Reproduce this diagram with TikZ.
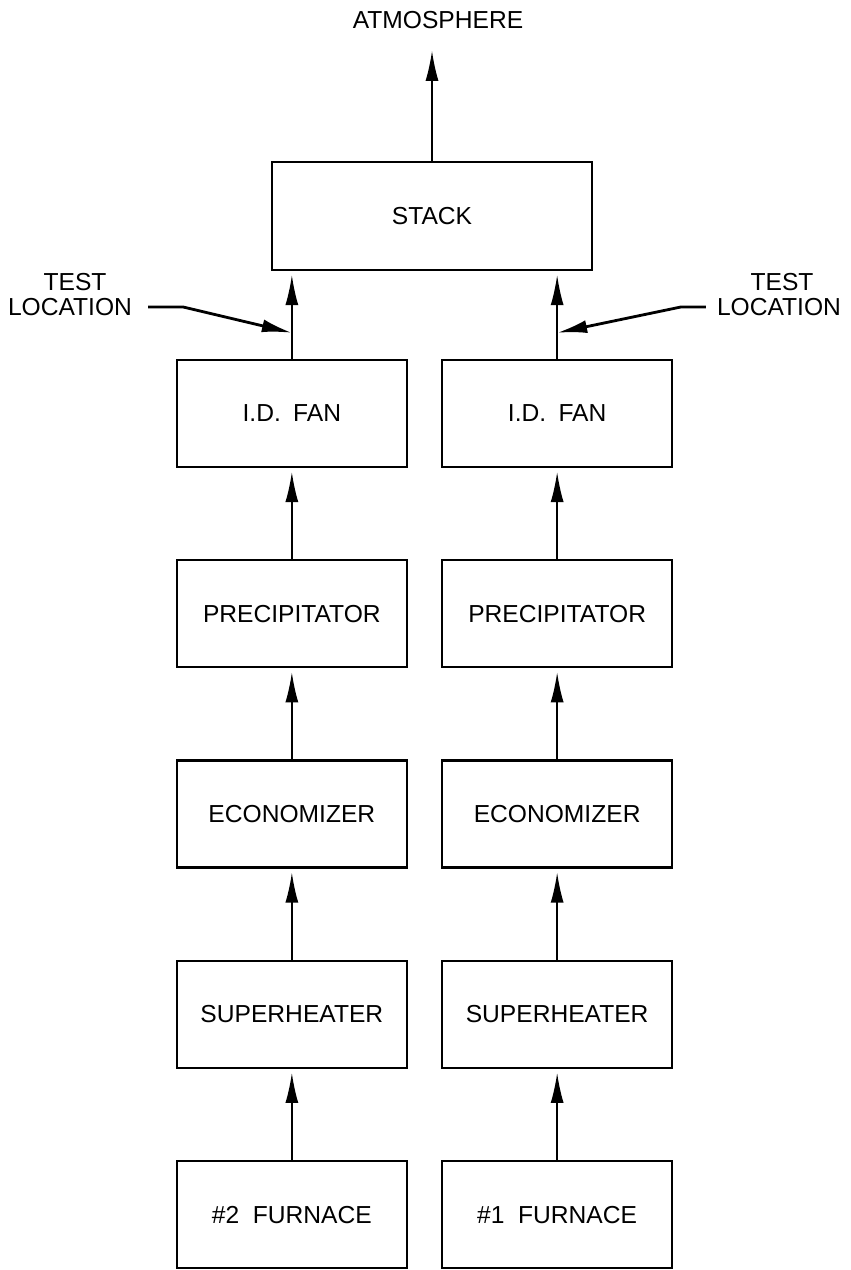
\documentclass[tikz,border=0pt]{standalone}
\usepackage{fontspec}
\setmainfont{Liberation Sans}
\usetikzlibrary{matrix,positioning,calc,arrows.meta}

\begin{document}
\begin{tikzpicture}[font=\fontsize{14}{16}\selectfont,
        unit/.style={draw, line width=1.3pt, minimum width=4.6cm, minimum height=2.14cm, inner sep=0pt},
        flow/.style={-{Latex[length=6mm,width=2.6mm]}, line width=0.9pt},
        probe/.style={-{Latex[length=6mm,width=2.6mm]}, line width=1.6pt}]
        \useasboundingbox (0,0) rectangle (17,-25.4);
        \matrix(plant)[matrix of nodes, nodes={unit}, row sep=1.82cm, column sep=0.66cm] at (8.49,-16.28)
        {
          I.D.\hspace{0.5em}FAN & I.D.\hspace{0.5em}FAN \\
          PRECIPITATOR & PRECIPITATOR \\
          ECONOMIZER & ECONOMIZER \\
          SUPERHEATER & SUPERHEATER \\
          \#2\ \ FURNACE & \#1\ \ FURNACE \\
        };
        \node[unit, minimum width=6.4cm, minimum height=2.16cm] (stack) at (8.64,-4.32) {STACK};
        \node (atm) at (8.76,-0.40) {ATMOSPHERE};
        \coordinate (vent) at ($(stack.north)+(0,2.2)$);
        \draw[flow] (stack.north) -- (vent);
        \foreach \r/\s in {2/1, 3/2, 4/3, 5/4} {
          \foreach \c in {1, 2} {
            \draw[flow, shorten >=0.08cm] (plant-\r-\c) -- (plant-\s-\c);
          };
        };
        \foreach \c in {1, 2} {
          \draw[flow, shorten >=0.08cm] (plant-1-\c.north) -- (plant-1-\c.north |- stack.south);
          \coordinate (tap\c) at ($(plant-1-\c.north)+(0,0.52)$);
        };
        \node (testL) at (1.5,-5.64) {TEST};
        \node (locL) at (1.4,-6.14) {LOCATION};
        \node (testR) at (15.64,-5.64) {TEST};
        \node (locR) at (15.58,-6.14) {LOCATION};
        \draw[probe] ([xshift=2mm]locL.east) -- ++(0.7,0) -- (tap1);
        \draw[probe] ([xshift=-1mm]locR.west) -- ++(-0.5,0) -- (tap2);
      \end{tikzpicture}
\end{document}
